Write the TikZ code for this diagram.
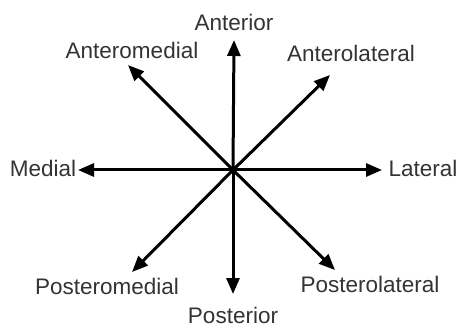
\documentclass[tikz,border=0pt]{standalone}
\usepackage{fontspec}
\setmainfont{Liberation Sans}
\usetikzlibrary{arrows.meta}
\definecolor{lbl}{HTML}{333333}
\tikzset{
  dirarrow/.style={line width=3pt, draw=black, -{Triangle[length=16pt,width=13pt]}},
  lab/.style={text=lbl, font=\fontsize{22.5}{25}\selectfont, inner sep=0pt}
}
\begin{document}
\begin{tikzpicture}[x=1pt,y=-1pt]
\useasboundingbox (0,0) rectangle (456,329);
\coordinate (c) at (233,170);
\coordinate (ta) at (234,40);
\coordinate (tam) at (128,65);
\coordinate (tal) at (330,75);
\coordinate (tm) at (78,170);
\coordinate (tl) at (382,170);
\coordinate (tpm) at (132,272);
\coordinate (tp) at (233,294);
\coordinate (tpl) at (335,270);
\draw[dirarrow] (c) -- (ta);
\draw[dirarrow] (c) -- (tam);
\draw[dirarrow] (c) -- (tal);
\draw[dirarrow] (c) -- (tm);
\draw[dirarrow] (c) -- (tl);
\draw[dirarrow] (c) -- (tpm);
\draw[dirarrow] (c) -- (tp);
\draw[dirarrow] (c) -- (tpl);
\node[lab] (la) at (234,22) {Anterior};
\node[lab] (lam) at (132,50) {Anteromedial};
\node[lab] (lal) at (351,53) {Anterolateral};
\node[lab] (lm) at (43,168) {Medial};
\node[lab] (ll) at (423,168) {Lateral};
\node[lab] (lpm) at (107,286) {Posteromedial};
\node[lab] (lp) at (233,315) {Posterior};
\node[lab] (lpl) at (370,284) {Posterolateral};
\end{tikzpicture}
\end{document}
